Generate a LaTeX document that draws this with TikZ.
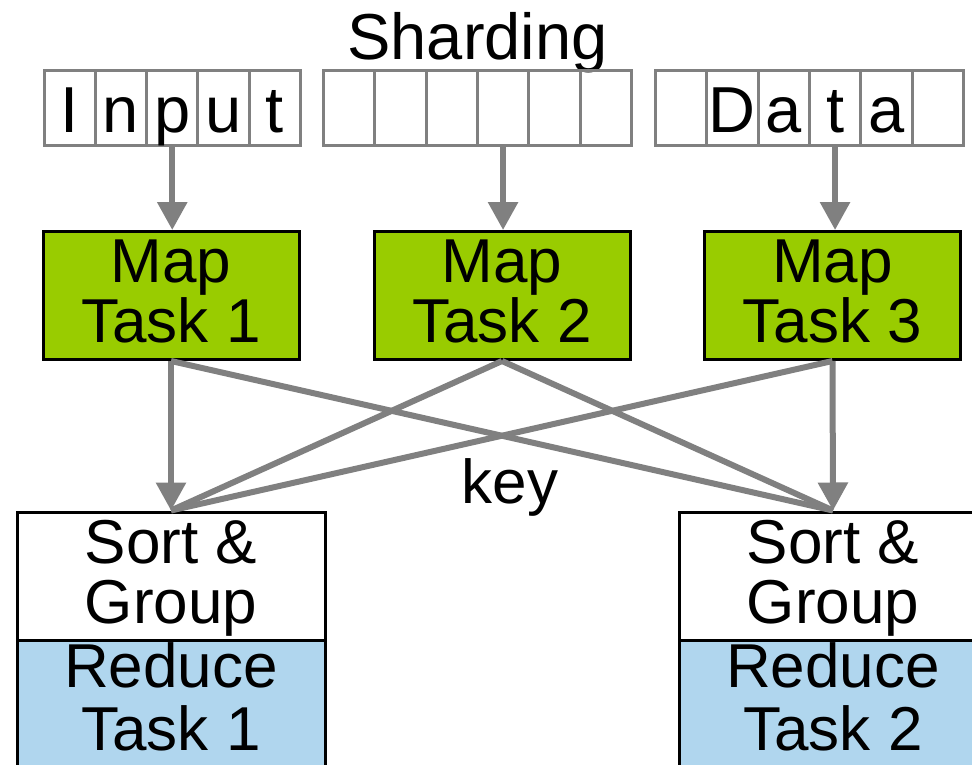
\documentclass[tikz,border=0pt]{standalone}
\usepackage{fontspec}
\setmainfont{Liberation Sans}
\usetikzlibrary{arrows.meta,calc}
\definecolor{mapgreen}{HTML}{99CC00}
\definecolor{reduceblue}{HTML}{B0D6EE}
\definecolor{linkgray}{HTML}{808080}

\begin{document}
\begin{tikzpicture}[x=1pt,y=-1pt,
  cell/.style={draw=linkgray, line width=3pt, minimum width=51.3pt,
    minimum height=75pt, inner sep=0pt, text height=50pt, text depth=0pt,
    font=\fontsize{65}{65}\selectfont, anchor=north west},
  mapbox/.style={draw=black, line width=3pt, fill=mapgreen,
    minimum width=256pt, minimum height=128pt, inner sep=0pt},
  sortbox/.style={draw=black, line width=3pt, fill=white,
    minimum width=308pt, minimum height=128pt, inner sep=0pt},
  reducebox/.style={sortbox, fill=reduceblue},
  lbl/.style={font=\fontsize{62}{62}\selectfont, inner sep=0pt, anchor=base},
  arr/.style={draw=linkgray, line width=6pt, -{Triangle[length=28pt,width=29pt]}},
  link/.style={draw=linkgray, line width=6pt}
]
\path[use as bounding box, clip] (0,0) rectangle (972,765);
\fill[white] (0,0) rectangle (972,765);

% title
\node[lbl, font=\fontsize{65}{65}\selectfont] (title) at (477.5,60) {Sharding};

% input shards
\foreach \t [count=\i] in {I,n,p,u,t}
  \node[cell] (a\i) at ({42.5+(\i-1)*51.3},69) {\t};
\foreach \i in {1,...,6}
  \node[cell] (b\i) at ({322+(\i-1)*51.3},69) {};
\foreach \t [count=\i] in {{},D,a,t,a,{}}
  \node[cell] (c\i) at ({654+(\i-1)*51.3},69) {\t};

% map tasks
\node[mapbox] (m1) at (171,295.5) {};
\node[mapbox] (m2) at (502,295.5) {};
\node[mapbox] (m3) at (832.5,295.5) {};
\node[lbl] (m1a) at (171,282) {Map};
\node[lbl] (m1b) at (171,342) {Task 1};
\node[lbl] (m2a) at (502,282) {Map};
\node[lbl] (m2b) at (502,342) {Task 2};
\node[lbl] (m3a) at (832.5,282) {Map};
\node[lbl] (m3b) at (832.5,342) {Task 3};

% sort & group / reduce
\node[sortbox] (s1) at (171,576) {};
\node[sortbox] (s2) at (833,576) {};
\node[reducebox] (r1) at (171,704) {};
\node[reducebox] (r2) at (833,704) {};
\node[lbl] (s1a) at (171,563) {Sort \&};
\node[lbl] (s1b) at (171,623) {Group};
\node[lbl] (s2a) at (833,563) {Sort \&};
\node[lbl] (s2b) at (833,623) {Group};
\node[lbl] (r1a) at (171,687) {Reduce};
\node[lbl] (r1b) at (171,750) {Task 1};
\node[lbl] (r2a) at (833,687) {Reduce};
\node[lbl] (r2b) at (833,750) {Task 2};

\node[lbl] (key) at (510,503) {key};

% shard -> map
\draw[arr] (a3.south) -- (a3.south |- m1.north);
\draw[arr] (b4.south) -- (b4.south |- m2.north);
\draw[arr] (c4.south) -- (c4.south |- m3.north);

% shuffle
\draw[link] (m1.south) -- (s2.north);
\draw[link] (m2.south) -- (s1.north);
\draw[link] (m2.south) -- (s2.north);
\draw[link] (m3.south) -- (s1.north);
\draw[arr] (m1.south) -- (s1.north);
\draw[arr] (m3.south) -- (s2.north);
\end{tikzpicture}
\end{document}
